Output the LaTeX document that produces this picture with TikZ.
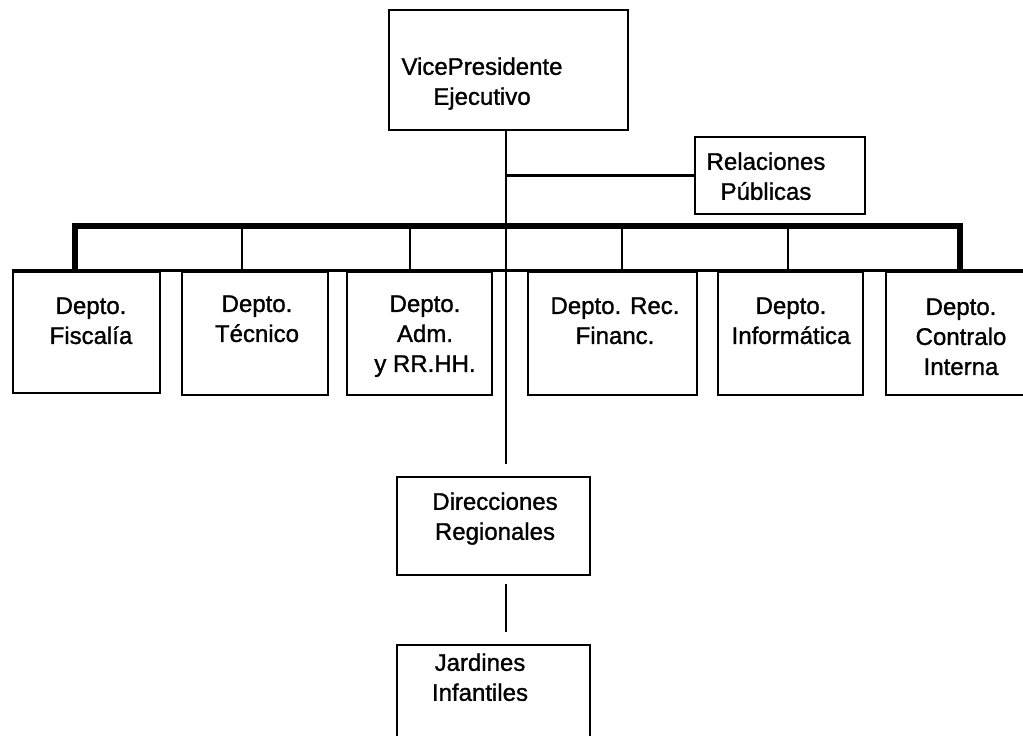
\documentclass[tikz,border=0pt]{standalone}
\usepackage{fontspec}
\setmainfont{Liberation Sans}[FakeBold=1.2]
\usetikzlibrary{positioning, fit}

\tikzset{
    box/.style={draw, line width=1.3pt, inner sep=0pt},
    lbl/.style={anchor=north, align=center, inner sep=0pt,
                font=\fontsize{12}{15}\selectfont},
    link/.style={line width=1.3pt},
    bar/.style={line width=3.2pt, line join=miter}
}

\begin{document}
\begin{tikzpicture}[x=0.5pt, y=-0.5pt]
        \clip (0,0) rectangle (1023,735);
        % Top of the chart
        \node[box, fit={(389,10) (628,130)}] (vp) {};
        \node[lbl] (vptxt) at (482,57) {VicePresidente\\Ejecutivo};
        \node[box, fit={(695,137) (865,214)}] (rp) {};
        \node[lbl] (rptxt) at (766,152) {Relaciones\\Públicas};

        % Departments
        \node[box, fit={(13,272) (160,393)}] (fisc) {};
        \node[box, fit={(182,272) (328,395)}] (tec) {};
        \node[box, fit={(347,272) (492,395)}] (adm) {};
        \node[box, fit={(528,272) (697,395)}] (rec) {};
        \node[box, fit={(718,272) (863,395)}] (inf) {};
        \node[box, fit={(886,272) (1040,395)}] (contr) {};
        \node[lbl] (fisctxt) at (91,297) {Depto.\\Fiscalía};
        \node[lbl] (tectxt) at (257,295) {Depto.\\Técnico};
        \node[lbl] (admtxt) at (425,295) {Depto.\\Adm.\\y RR.HH.};
        \node[lbl] (rectxt) at (615,297) {Depto. Rec.\\Financ.};
        \node[lbl] (inftxt) at (791,297) {Depto.\\Informática};
        \node[lbl] (contrtxt) at (961,298) {Depto.\\Contralo\\Interna};

        % Regional level
        \node[box, fit={(397,477) (590,575)}] (dr) {};
        \node[lbl] (drtxt) at (495,492) {Direcciones\\Regionales};
        \node[box, fit={(397,645) (590,760)}] (ji) {};
        \node[lbl] (jitxt) at (480,653) {Jardines\\Infantiles};

        % Connectors
        \coordinate (spine) at (506,0);
        \coordinate (barL) at (75,226);
        \coordinate (barR) at (960,226);
        \draw[link, shorten >=6pt] (vp.south -| spine) -- (spine |- dr.north);
        \draw[link, shorten <=4pt, shorten >=6pt] (spine |- dr.south) -- (spine |- ji.north);
        \draw[link] (spine |- rp.west) -- (rp.west);
        \draw[bar] (barL |- fisc.north) -- (barL) -- (barR) -- (barR |- contr.north);
        \draw[link] (fisc.north west) -- (contr.north east);
        \foreach \n/\dx in {tec/-13, adm/-9.5, rec/9.5, inf/-2.5}
            \draw[link] ([xshift=\dx*0.5pt]\n.north) -- ([xshift=\dx*0.5pt]\n.north |- barL);
\end{tikzpicture}
\end{document}
